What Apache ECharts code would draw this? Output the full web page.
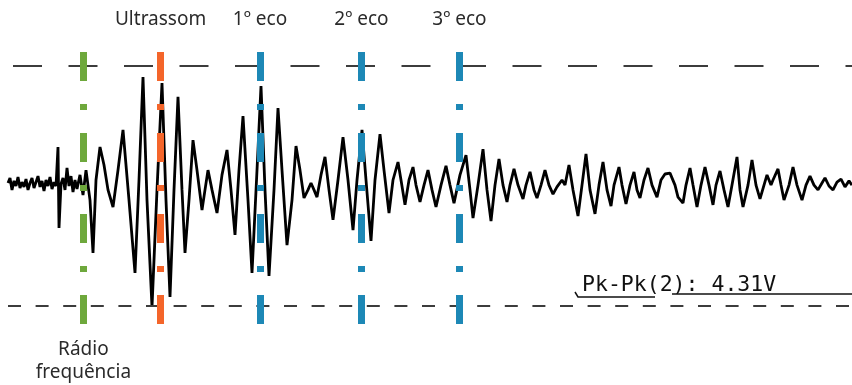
<!DOCTYPE html>
<html><head><meta charset="utf-8">
<script src="https://cdn.jsdelivr.net/npm/echarts@6/dist/echarts.min.js"></script>
<style>html,body{margin:0;padding:0;background:#fff}#c{width:852px;height:385px}</style>
</head><body><div id="c"></div>
<script>
// ---- data (time in µs, amplitude in V/div units) ----
const timeUs = [
  0,0.1,0.2,0.3,0.4,0.5,0.6,0.7,0.8,0.9,
  1.0,1.1,1.2,1.3,1.4,1.5,1.6,1.7,1.8,1.9,
  2.0,2.1,2.2,2.3,2.4,2.5,2.55,2.65,2.75,2.85,
  2.95,3.05,3.15,3.25,3.35,3.45,3.6,3.75,3.9,4.1,
  4.25,4.4,4.6,4.8,5.0,5.25,5.5,5.75,6.05,6.35,
  6.55,6.75,6.95,7.2,7.45,7.7,7.9,8.1,8.3,8.5,
  8.7,8.85,9.05,9.25,9.45,9.7,9.85,10.0,10.2,10.45,
  10.7,10.95,11.15,11.35,11.55,11.75,12.0,12.2,12.45,12.65,
  12.85,13.05,13.3,13.5,13.7,13.95,14.2,14.4,14.6,14.8,
  15.0,15.15,15.3,15.45,15.65,15.85,16.05,16.25,16.5,16.75,
  17.0,17.25,17.45,17.7,17.9,18.15,18.35,18.6,18.8,19.05,
  19.25,19.5,19.65,19.85,20.05,20.25,20.4,20.6,20.8,21.0,
  21.2,21.4,21.65,21.9,22.1,22.3,22.6,22.9,23.1,23.25,
  23.5,23.75,23.95,24.15,24.35,24.55,24.75,24.95,25.1,25.3,
  25.5,25.75,25.9,26.1,26.3,26.45,26.65,26.85,27.05,27.25,
  27.45,27.7,27.85,28.05,28.25,28.5,28.7,28.9,29.1,29.35,
  29.55,29.75,29.95,30.15,30.3,30.55,30.7,30.9,31.1,31.3,
  31.45,31.6,31.8,32.0,32.2,32.45,32.65,32.85,33.1,33.35,
  33.5,33.75,33.9,34.1,34.25,34.45,34.65,34.85,35.05,35.25,
  35.4,35.6,35.8,36.0,36.2,36.45,36.6,36.75,37.0,37.2,
  37.4,37.6,37.8,37.95,38.15,38.25,38.5,38.65,38.8,39.05,
  39.25,39.45,39.7,39.9,40.1,40.3,40.5,40.7,40.85,41.05,
  41.25,41.45,41.65,41.85,42.05,42.2
];
const volts = [
  0.10,0.27,-0.13,0.17,0,0.30,-0.07,0.13,-0.03,0.23,
  -0.13,0.10,0.27,-0.07,0.13,0.33,-0.03,0.17,-0.17,0.20,
  0,0.30,-0.10,0.13,0,1.30,-1.40,0.07,0.27,-0.13,
  0.60,0,0.33,-0.20,0.20,-0.10,0.37,-0.30,0.53,-0.47,
  -2.23,0.20,1.30,0.70,-0.13,-0.70,0.53,1.87,-0.47,-2.90,
  0.20,3.63,-0.47,-4.03,-0.13,3.43,-0.47,-3.70,-0.13,2.97,
  -0.13,-2.23,-0.47,1.53,0.53,-0.80,-0.13,0.53,-0.13,-0.90,
  0.37,1.20,-0.13,-1.63,0.53,2.33,-0.47,-2.90,0.53,3.33,
  -0.13,-3.00,-0.13,2.60,0.53,-1.97,-0.47,1.33,0.53,-0.40,
  -0.13,0.10,-0.13,-0.37,0.37,0.97,-0.13,-1.13,0.20,1.63,
  0.20,-1.47,0.20,1.87,0.20,-1.83,0.20,1.73,0.53,-0.90,
  0.20,0.80,0.20,-0.63,0.20,0.63,0.03,-0.53,0.03,0.53,
  -0.13,-0.70,0.03,0.67,0.03,-0.57,0.37,1.03,-0.13,-1.07,
  0.03,1.23,-0.13,-1.17,0.03,0.90,0.03,-0.53,0.03,0.57,
  0.03,-0.43,0.03,0.47,-0.13,-0.40,0.03,0.53,0.03,-0.27,
  -0.03,0.20,0.03,0.70,-0.13,-1.00,0.03,1.07,-0.13,-0.93,
  0.03,0.80,-0.13,-0.67,0.03,0.63,0.03,-0.60,0.03,0.47,
  -0.13,-0.40,0.20,0.60,0.03,-0.37,0.20,0.40,0.43,0.03,
  -0.37,-0.57,0.03,0.60,0.03,-0.70,0.03,0.63,0.03,-0.63,
  0.03,0.50,-0.13,-0.70,0.03,0.97,-0.13,-0.70,0.03,0.87,
  0.03,-0.43,0.03,0.37,0.03,0.20,0.57,0.03,-0.47,0.03,
  0.63,0.03,-0.47,0.03,0.33,0.03,-0.13,0.10,0.27,0,
  -0.13,0.13,0.23,-0.03,0.17,0.03
];
const markerNames = ['Rádio\nfrequência', 'Ultrassom', '1º eco', '2º eco', '3º eco'];
const markerTimes = [3.77, 7.63, 12.6, 17.67, 22.57];
const refLevels = [4, -4];
const readout = 'Pk-Pk(2): 4.31V';
const caption = 'Figura 3 – Exemplo do espaço percorrido pela onda de ultrassom no sinal captado';

// ---- styling ----
const markerColors = ['#6ea83c', '#f4652a', '#1d88b6', '#1d88b6', '#1d88b6'];
const T_MIN = 0, T_MAX = 42.2;
const V_MIN = -14 / 3, V_MAX = 14 / 3;
const markerTop = 4.47, markerBottom = -4.63;

const chart = echarts.init(document.getElementById('c'), null, {renderer: 'canvas'});

const levelLines = [
  [{coord: [0.25, refLevels[0]], lineStyle: {type: [29, 26.5], color: '#3c3c3c', width: 2}}, {coord: [T_MAX, refLevels[0]]}],
  [{coord: [T_MIN, refLevels[1]], lineStyle: {type: [13, 14.6], color: '#3c3c3c', width: 2}}, {coord: [T_MAX, refLevels[1]]}]
];
const markerLines = markerTimes.map((t, i) => [
  {coord: [t, markerTop], lineStyle: {type: [29, 23, 6, 23], color: markerColors[i], width: 7, cap: 'butt'}},
  {coord: [t, markerBottom]}
]);

chart.setOption({
  animation: false,
  backgroundColor: '#fff',
  grid: {left: 8, right: 0, top: 46, bottom: 59, containLabel: false},
  xAxis: {type: 'value', min: T_MIN, max: T_MAX, show: false},
  yAxis: {type: 'value', min: V_MIN, max: V_MAX, show: false},
  series: [
    {
      type: 'line', data: [], clip: false, silent: true, z: 1,
      markLine: {silent: true, symbol: ['none', 'none'], label: {show: false}, animation: false, data: levelLines}
    },
    {
      type: 'line', clip: false, silent: true, z: 2,
      showSymbol: false, symbol: 'none',
      lineStyle: {color: '#000', width: 2.8, join: 'bevel'},
      data: timeUs.map((t, i) => [t, volts[i]])
    },
    {
      type: 'line', data: [], clip: false, silent: true, z: 3,
      markLine: {silent: true, symbol: ['none', 'none'], label: {show: false}, animation: false, data: markerLines}
    }
  ]
});

const px = (t, v) => chart.convertToPixel({gridIndex: 0}, [t, v]);
const graphics = [];
markerTimes.forEach((t, i) => {
  const p = px(t, 0);
  if (i === 0) {
    graphics.push({type: 'text', x: p[0], y: 361.5, style: {
      text: markerNames[i], fill: '#2a2a2a', font: '19px "Noto Sans"', lineHeight: 23,
      align: 'center', verticalAlign: 'middle', textAlign: 'center', textVerticalAlign: 'middle'}});
  } else {
    graphics.push({type: 'text', x: p[0], y: 20, style: {
      text: markerNames[i], fill: '#2a2a2a', font: '19px "Noto Sans"',
      align: 'center', verticalAlign: 'middle', textAlign: 'center', textVerticalAlign: 'middle'}});
  }
});
graphics.push({type: 'text', x: 582, y: 285, style: {
  text: readout, fill: '#111', font: '21.5px "DejaVu Sans Mono"',
  align: 'left', verticalAlign: 'middle', textAlign: 'left', textVerticalAlign: 'middle'}});
graphics.push({type: 'polyline', shape: {points: [[575, 292], [578, 297], [655, 297]]}, style: {stroke: '#111', lineWidth: 1.5, fill: null}});
graphics.push({type: 'line', shape: {x1: 672, y1: 294, x2: 852, y2: 294}, style: {stroke: '#111', lineWidth: 1.5}});
graphics.push({type: 'text', x: 12, y: -12, style: {
  text: caption, fill: '#111', font: '24px "Liberation Serif"',
  align: 'left', verticalAlign: 'middle', textAlign: 'left', textVerticalAlign: 'middle'}});
chart.setOption({graphic: graphics});
</script>
</body></html>
